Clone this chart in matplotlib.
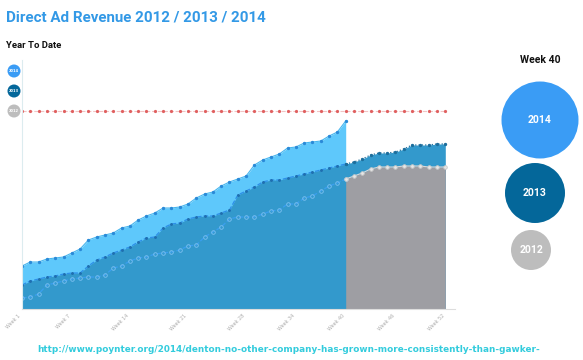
import matplotlib.pyplot as plt
from matplotlib.patches import Circle

# weekly cumulative direct ad revenue (arbitrary units)
weeks = list(range(1, 53))
rev_2014 = [43, 47, 47, 50, 51, 52, 56, 60, 69, 72, 74, 76, 81, 83, 89, 93, 96, 101, 101, 102,
            105, 111, 115, 117, 123, 127, 130, 133, 144, 149, 152, 155, 161, 162, 166, 167, 168, 173, 177, 188]
rev_2013 = [24, 28, 30, 32, 33, 35, 36, 36, 43, 49, 52, 56, 59, 62, 67, 71, 72, 81, 85, 86,
            90, 92, 93, 93, 96, 99, 114, 118, 122, 127, 129, 129, 131, 133, 135, 137, 139, 141, 143, 145,
            147, 150, 154, 156, 156, 157, 160, 164, 164, 164, 165, 165]
rev_2012 = [11, 12, 15, 24, 26, 28, 30, 31, 32, 32, 34, 41, 43, 48, 51, 52, 55, 56, 57, 59,
            63, 64, 72, 77, 82, 90, 92, 92, 92, 95, 98, 99, 105, 105, 111, 113, 118, 123, 126, 130,
            133, 136, 140, 142, 142, 142, 143, 143, 143, 142, 142, 142]
target = 198
current_week = 40
tick_weeks = [1, 7, 14, 21, 28, 34, 40, 46, 52]
years = ['2014', '2013', '2012']
year_colors = ['#3a9cf5', '#04679a', '#bdbdbd']
bubble_radius = [38.5, 30, 20]   # pixels, week 40 bubbles

W, H = 583, 360
fig = plt.figure(figsize=(W / 100, H / 100), dpi=100)

ax = fig.add_axes([22 / W, 51 / H, 433 / W, 249 / H])
cw = current_week

# areas
ax.fill_between(weeks[:cw], rev_2014, color='#5ec8fb', lw=0)
ax.fill_between(weeks, rev_2013, color='#3399cc', lw=0)
ax.fill_between(weeks[cw - 1:], rev_2012[cw - 1:], color='#9e9ea3', lw=0)

# target line
ax.plot(weeks, [target] * len(weeks), color='#f2c4c4', ls='--', lw=0.8,
        marker='o', ms=1.3, mfc='#e06060', mec='#e06060')

# 2014
ax.plot(weeks[:cw], rev_2014, color='#47b6ee', lw=0.8,
        marker='o', ms=1.4, mfc='#2a8ad8', mec='#2a8ad8')
# 2013 (year to date, then rest of year)
ax.plot(weeks[:cw], rev_2013[:cw], color='#2d8fe8', lw=0.9, ls='--',
        marker='o', ms=1.1, mfc='#1f6fb0', mec='#1f6fb0')
ax.plot(weeks[cw - 1:], rev_2013[cw - 1:], color='#1d6e9c', lw=0.9, ls=':',
        marker='o', ms=1.4, mfc='#1d6e9c', mec='#1d6e9c')
# 2012
ax.plot(weeks[:cw], rev_2012[:cw], color='#3a9ff0', lw=0.9, ls='--',
        marker='o', ms=2.6, mfc='none', mec='#7cc0f2', mew=0.6)
ax.plot(weeks[cw - 1:], rev_2012[cw - 1:], color='#d8d8d8', lw=0.8,
        marker='o', ms=2.6, mfc='#e6e6e6', mec='#c8c8c8', mew=0.6)

ax.set_xlim(1, 1 + 433 / 8.3)
ax.set_ylim(0, 249)
ax.set_yticks([])
ax.set_xticks(tick_weeks)
ax.set_xticklabels(['Week %d' % w for w in tick_weeks], rotation=45, ha='right',
                   fontsize=3.5, color='#aaaaaa')
ax.tick_params(axis='x', length=0, pad=3)
for s in ['top', 'right']:
    ax.spines[s].set_visible(False)
ax.spines['left'].set_color('#dcecef')
ax.spines['left'].set_linewidth(0.8)
ax.spines['bottom'].set_color('#dddddd')
ax.spines['bottom'].set_linewidth(0.8)
ax.set_facecolor('none')

# texts
fig.text(6 / W, 1 - 18 / H, 'Direct Ad Revenue 2012 / 2013 / 2014', fontsize=10.9,
         fontweight='bold', color='#3399e6', va='center',
         family=['Roboto', 'DejaVu Sans'])
fig.text(6 / W, 1 - 45 / H, 'Year To Date', fontsize=6.8, fontweight='bold',
         color='#111111', va='center', family=['Roboto', 'DejaVu Sans'])
fig.text(540 / W, 1 - 60 / H, 'Week 40', fontsize=7.5, fontweight='bold',
         color='#111111', ha='center', va='center', family=['Roboto', 'DejaVu Sans'])
fig.text(289 / W, 1 - 350 / H,
         'http://www.poynter.org/2014/denton-no-other-company-has-grown-more-consistently-than-gawker-',
         fontsize=6.4, fontweight='bold', color='#33ccdd', ha='center', va='center')

# small legend circles on the left
for i, (yr, c) in enumerate(zip(years, year_colors)):
    cx, cy = 14, 71 + 20 * i
    fig.add_artist(Circle((cx / 100, (H - cy) / 100), 6.5 / 100, color=c,
                          transform=fig.dpi_scale_trans, lw=0))
    fig.text(cx / W, 1 - cy / H, yr, fontsize=2.6, color='white', fontweight='bold',
             ha='center', va='center')

# week 40 bubbles on the right
centers = [(540, 120), (535, 193), (531, 250)]
for yr, c, r, (cx, cy) in zip(years, year_colors, bubble_radius, centers):
    fig.add_artist(Circle((cx / 100, (H - cy) / 100), r / 100, color=c,
                          transform=fig.dpi_scale_trans, lw=0))
    fig.text(cx / W, 1 - cy / H, yr, fontsize=7.5, color='white', fontweight='bold',
             ha='center', va='center', family=['Roboto', 'DejaVu Sans'])

fig.savefig('out.png', dpi=100)
